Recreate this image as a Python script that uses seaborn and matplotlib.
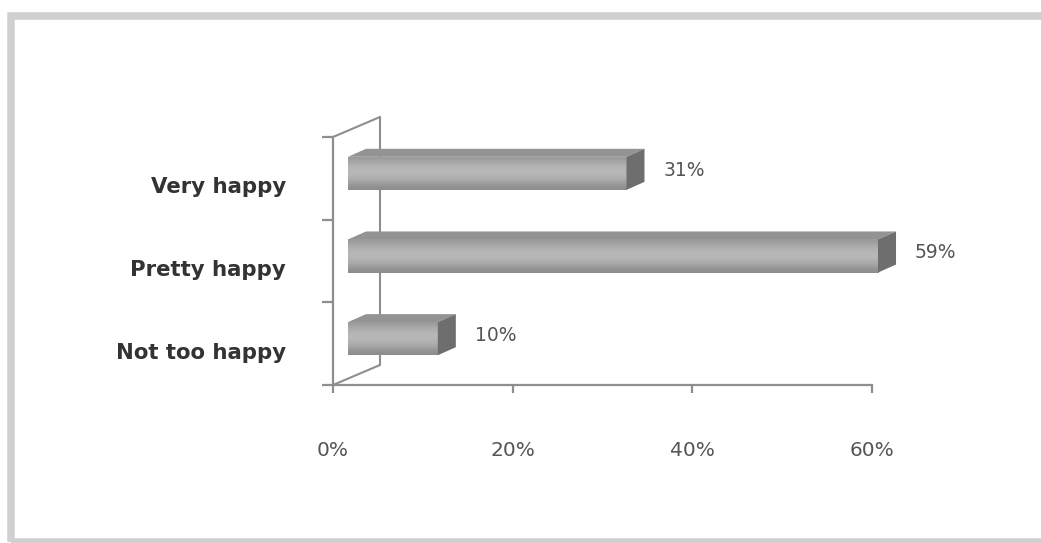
import numpy as np
import pandas as pd
import seaborn as sns
import matplotlib.pyplot as plt
from matplotlib.patches import Polygon, Rectangle
from matplotlib.transforms import ScaledTranslation

# datos del grafico
categorias = ["Very happy", "Pretty happy", "Not too happy"]
valores = [31, 59, 10]
ticks_x = [0, 20, 40, 60]
etiquetas_x = ["0%", "20%", "40%", "60%"]

df = pd.DataFrame({"categoria": categorias, "valor": valores})

sns.set_theme(style="white")
plt.rcParams["font.family"] = ["DejaVu Sans"]

GRIS_EJE = "#8e8e8e"

fig = plt.figure(figsize=(10.41, 5.43), dpi=100)
ax = fig.add_axes([333 / 1041, 1 - 385 / 543, (872 - 333) / 1041, (385 - 137) / 543])

sns.barplot(data=df, x="valor", y="categoria", orient="h", ax=ax,
            color="#a6a6a6", width=0.4, edgecolor="none", saturation=1)

ax.set_xlim(0, 60)
ax.set_ylim(2.5, -0.5)


def mover(x, y, dx, dy):
    # desplaza un punto de datos unos pixeles en pantalla
    px, py = ax.transData.transform((x, y))
    return ax.transData.inverted().transform((px + dx, py + dy))


def desplazamiento(dx, dy):
    return ax.transData + ScaledTranslation(dx / fig.dpi, dy / fig.dpi, fig.dpi_scale_trans)


# profundidad falsa en 3D (pixeles)
FRENTE = (15, 5)
FONDO = (33, 13)
PARED = (47, 20)

# pared del fondo
y_abajo, y_arriba = 2.5, -0.5
p0 = mover(0, y_abajo, *PARED)
p1 = mover(0, y_arriba, *PARED)
ax.plot([0, p0[0]], [y_abajo, p0[1]], color=GRIS_EJE, lw=1.5, clip_on=False, zorder=1)
ax.plot([0, p1[0]], [y_arriba, p1[1]], color=GRIS_EJE, lw=1.5, clip_on=False, zorder=1)
ax.plot([p0[0], p1[0]], [p0[1], p1[1]], color=GRIS_EJE, lw=1.5, clip_on=False, zorder=1)

# degradado vertical para la cara frontal
grad = np.array([0.60, 0.66, 0.70, 0.72, 0.71, 0.67, 0.61, 0.55])[:, None]

for p in list(ax.patches):
    x0, y0 = p.get_x(), p.get_y()
    w, h = p.get_width(), p.get_height()
    yt, yb = y0, y0 + h  # eje invertido: yt arriba

    fa = mover(x0, yt, *FRENTE)
    fb = mover(x0 + w, yb, *FRENTE)
    p.set_transform(desplazamiento(*FRENTE))
    p.set_zorder(3)
    p.set_clip_on(False)

    img = ax.imshow(grad, cmap="gray", vmin=0, vmax=1, aspect="auto",
                    extent=[fa[0], fb[0], fb[1], fa[1]], zorder=4,
                    interpolation="bicubic")
    img.set_clip_path(p)

    # cara superior
    a = mover(x0, yt, *FRENTE)
    b = mover(x0 + w, yt, *FRENTE)
    c = mover(x0 + w, yt, *FONDO)
    d = mover(x0, yt, *FONDO)
    ax.add_patch(Polygon([a, b, c, d], closed=True, facecolor="#939393",
                         edgecolor="none", zorder=2, clip_on=False))

    # cara lateral derecha
    e = mover(x0 + w, yb, *FRENTE)
    f = mover(x0 + w, yb, *FONDO)
    ax.add_patch(Polygon([b, c, f, e], closed=True, facecolor="#6e6e6e",
                         edgecolor="none", zorder=5, clip_on=False))

    # etiqueta del valor
    ax.annotate(f"{w:.0f}%", xy=(x0 + w, y0 + h / 2), xytext=(52, 8),
                textcoords="offset pixels", ha="left", va="center",
                fontsize=13.5, color="#555555")

ax.set_xlim(0, 60)
ax.set_ylim(2.5, -0.5)

# ejes
sns.despine(ax=ax, top=True, right=True)
for lado in ["left", "bottom"]:
    ax.spines[lado].set_color(GRIS_EJE)
    ax.spines[lado].set_linewidth(1.6)

ax.set_xticks(ticks_x)
ax.set_xticklabels(etiquetas_x, fontsize=14.5, color="#555555")
ax.tick_params(axis="x", direction="out", length=6, width=1.6, color=GRIS_EJE,
               pad=34, bottom=True)

ax.set_yticks([0, 1, 2])
ax.set_yticklabels(categorias, fontsize=15.3, color="#333333", fontweight="bold")
ax.set_yticks([-0.5, 0.5, 1.5, 2.5], minor=True)
ax.tick_params(axis="y", which="major", length=0, pad=34)
ax.tick_params(axis="y", which="minor", direction="out", length=8, width=1.6,
               color=GRIS_EJE, left=True)
for t in ax.get_yticklabels():
    t.set_transform(t.get_transform() + ScaledTranslation(0, -7 / fig.dpi, fig.dpi_scale_trans))

ax.set_xlabel("")
ax.set_ylabel("")

# marco gris de la imagen
fig.patches.append(Rectangle((10.5 / 1041, 1 - 542 / 543), 1.2, (542 - 16) / 543,
                             transform=fig.transFigure, fill=False,
                             edgecolor="#d0d0d0", lw=5.4, zorder=0))

fig.savefig("out.png", dpi=100)
